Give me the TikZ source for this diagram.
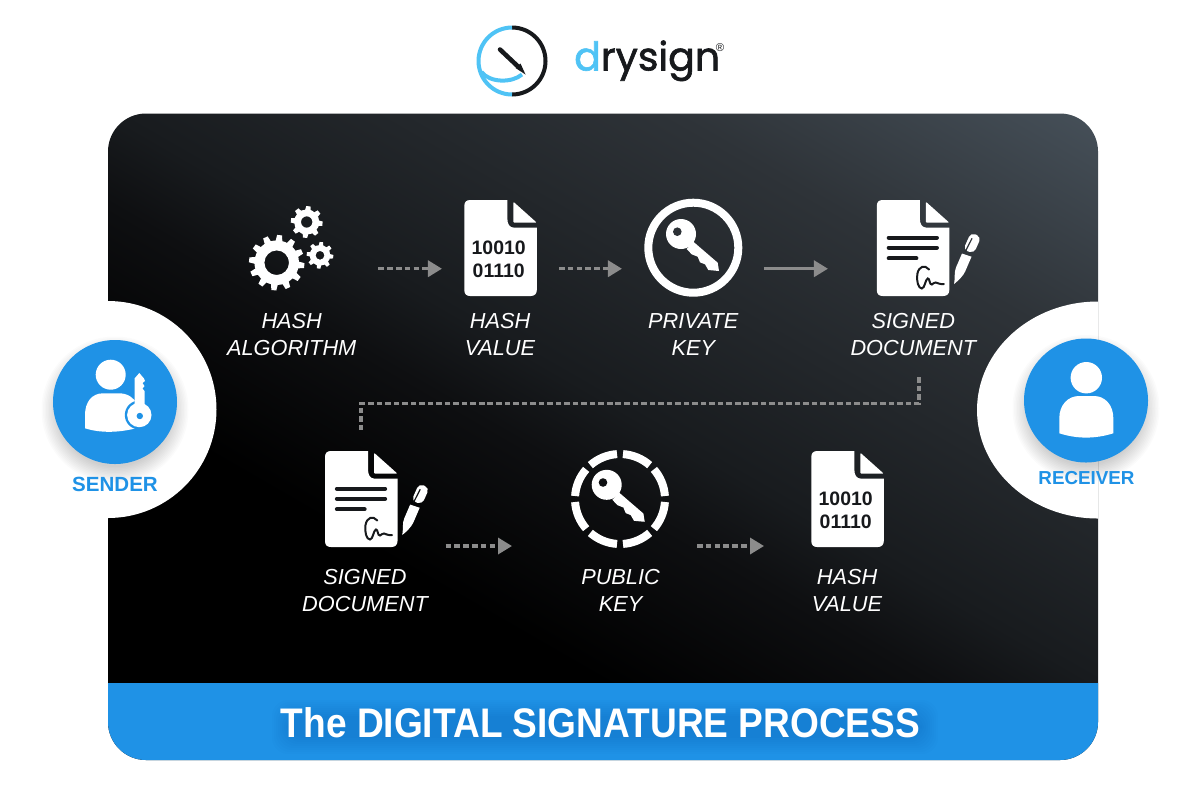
\documentclass[tikz,border=0pt]{standalone}
\usepackage{fontspec}
\setmainfont{Liberation Sans}
\newfontfamily\logofont[FakeBold=1.6]{Poppins}
\newfontfamily\titlefont[FakeStretch=0.897]{Liberation Sans}
\usetikzlibrary{arrows.meta,calc}
\definecolor{brandblue}{HTML}{1F92E6}
\definecolor{skyblue}{HTML}{4FC3F5}
\definecolor{inkdark}{HTML}{17191C}
\definecolor{arrowgrey}{HTML}{8C8C8C}
\definecolor{rowone}{HTML}{2C3136}
\definecolor{rowtwo}{HTML}{0F1012}
\definecolor{gradA}{HTML}{0E0F11}
\definecolor{gradB}{HTML}{181B1E}
\definecolor{gradC}{HTML}{2E3338}
\definecolor{gradD}{HTML}{465059}
\pgfdeclarehorizontalshading{panelgrad}{100bp}{
  color(0bp)=(black); color(25bp)=(black); color(40bp)=(black);
  color(46.8bp)=(gradA);
  color(50bp)=(gradB);
  color(61.4bp)=(gradC);
  color(70bp)=(gradD);
  color(100bp)=(gradD)}
\tikzset{
  iconbox/.style={inner sep=0pt,outer sep=0pt,minimum width=#1},
  caption/.style={text=white,align=center,font=\fontsize{16.3}{20}\selectfont\itshape,inner sep=0pt},
  flow/.style={draw=arrowgrey,line width=2.5pt,dash pattern=on 4.2pt off 2.4pt,-{Triangle[length=10.5pt,width=12pt,sep=3.5pt]},shorten >=-3.5pt},
  flowsolid/.style={draw=arrowgrey,line width=2.5pt,-{Triangle[length=10.5pt,width=12pt]}},
  link/.style={draw=arrowgrey,line width=2.5pt,dash pattern=on 4.2pt off 2.2pt},
}
% document outline, origin at its top-left corner
\newcommand{\docoutline}[1]{%
  \fill[white,shift={(#1)}] (6,0) -- (43,0) -- (43,18) .. controls (43,24) and (45,27.7) .. (50,27.7) -- (72.5,27.7) -- (72.5,90)
    .. controls (72.5,94) and (70,96) .. (66.5,96) -- (6,96) .. controls (2,96) and (0,94) .. (0,90) -- (0,6) .. controls (0,2) and (2,0) .. (6,0) -- cycle;
  \fill[white,shift={(#1)},rounded corners=0.8pt] (49,1.7) -- (72.5,22.7) -- (49,22.7) -- cycle;
}
\newcommand{\signedicon}[2]{%
  \docoutline{#1}
  \begin{scope}[shift={(#1)}]
    \draw[inkdark,line width=3.2pt,line cap=round] (12,37.7) -- (60,37.7) (12,47.7) -- (60,47.7) (12,58.3) -- (39.5,58.3);
    \draw[inkdark,line width=1.5pt,line cap=round] (52.3,69.5) .. controls (48,64.5) and (42,66) .. (40.5,74)
      .. controls (39.5,81) and (41.5,88.5) .. (45,88.5) .. controls (48,88.5) and (48.5,79) .. (51,78.5)
      .. controls (53,78) and (52.5,85) .. (55,84.5) .. controls (57,84) and (57,82) .. (59,82.5)
      .. controls (61,83) and (63,84.5) .. (67,84);
    \begin{scope}[shift={(77.3,84)},rotate=66]
      \fill[white] (0,0) .. controls (6,-1.5) and (11,-5) .. (16,-5) -- (31,-5.2) -- (32,4.8) -- (16,5) .. controls (11,5) and (5,2.5) .. (0,0) -- cycle;
      \fill[white,rounded corners=3.6pt] (35,-5.6) -- (54,-5.6) -- (54,5.6) -- (36,5.6) -- cycle;
      \draw[#2,line width=0.9pt] (34,-3) -- (49,-2.2);
    \end{scope}
  \end{scope}
}
\newcommand{\keyglyph}[2]{% origin: centre of the ring; #2 = hole colour
  \begin{scope}[shift={(#1)}]
    \fill[white] (-12.3,-13.7) circle (15);
    \fill[white] (0,-6) -- (24.4,15) -- (25.7,23.3) -- (15,22.3) -- (11.7,16.6) -- (6.7,14.6) -- (4.4,9) -- (-1.6,6.6) -- (-6.6,1.3) -- cycle;
    \fill[#2] (-16,-16) circle (4.3);
  \end{scope}
}
\newcommand{\gearicon}[6]{% cx cy tipR rootR holeR teeth
  \fill[white,even odd rule] (#1,#2) circle (#4) (#1,#2) circle (#5);
  \pgfmathsetmacro{\halfroot}{360/#6*0.30}
  \pgfmathsetmacro{\halftip}{360/#6*0.17}
  \foreach \k in {1,...,#6}{
    \pgfmathsetmacro{\ang}{\k*360/#6+6}
    \fill[white] ($(#1,#2)+(\ang-\halfroot:#4-0.5)$) -- ($(#1,#2)+(\ang-\halftip:#3)$) -- ($(#1,#2)+(\ang+\halftip:#3)$) -- ($(#1,#2)+(\ang+\halfroot:#4-0.5)$) -- cycle;
  }
}
\newcommand{\softshadow}[4]{% cx cy r colour
  \foreach \d in {0,1.5,...,16.5}{
    \fill[#4,opacity=0.014] (#1,#2) circle (#3+\d-5);
  }
}
\begin{document}
\begin{tikzpicture}[x=0.75pt,y=-0.75pt]
\path[use as bounding box,fill=white] (0,0) rectangle (1201,801);

% panel
\begin{scope}
  \clip[rounded corners=28.5pt] (108,113.5) rectangle (1098,760);
  \shade[shading=panelgrad,shading angle=60] (-17,-222) rectangle (1223,1018);
  \fill[brandblue] (100,683) rectangle (1110,770);
  \foreach \d in {0,2,...,16}{
    \fill[black,opacity=0.008,rounded corners=12pt] (288-\d,716-\d) rectangle (922+\d,738+\d);
  }
\end{scope}
\node[text=white,inner sep=0pt,font=\titlefont\fontsize{31}{34}\selectfont\bfseries] (title) at (600.5,722.5) {The DIGITAL SIGNATURE PROCESS};

% sender and receiver wells
\fill[white] (108,301) arc[start angle=-90,end angle=90,radius=108.5];
\fill[white] (1098,301.5) arc[start angle=-90,delta angle=-180,x radius=121,y radius=108.5];
\softshadow{115}{410}{62}{black}
\softshadow{1086}{408.5}{62}{black}
\node[circle,fill=brandblue,minimum size=93pt,inner sep=0pt] (sender) at (115,402) {};
\node[circle,fill=brandblue,minimum size=93pt,inner sep=0pt] (receiver) at (1086,400.5) {};
\node[text=brandblue,inner sep=0pt,font=\fontsize{15.4}{16}\selectfont\bfseries] (senderlabel) at (115,484) {SENDER};
\node[text=brandblue,inner sep=0pt,font=\fontsize{14.1}{16}\selectfont\bfseries] (receiverlabel) at (1086.5,478) {RECEIVER};

% sender person with key
\fill[white] (110.7,374.7) circle (15);
\fill[white] (85,428.3) -- (85,415) .. controls (85,402) and (92,393.3) .. (103,393.3) -- (119,393.3) .. controls (128,393.3) and (134,398) .. (137,404) -- (137,428) .. controls (118,433) and (100,433) .. (85,428.3) -- cycle;
\fill[brandblue] (139.3,415) circle (14.5);
\fill[white] (139.3,415) circle (12.2);
\fill[white] (134.5,406) -- (134.5,378.5) -- (139.3,373) -- (144,378.5) -- (145,381) -- (142.5,383) -- (144.5,386) -- (142.5,388.5) -- (144.5,391) -- (144.5,406) -- cycle;
\fill[brandblue] (139.8,416) circle (3.2);

% receiver person
\fill[white] (1086.3,377.7) circle (15.7);
\fill[white] (1059.3,433.3) -- (1059.3,418) .. controls (1059.3,405) and (1068,396) .. (1079,396) -- (1094,396) .. controls (1105,396) and (1113.3,405) .. (1113.3,418) -- (1113.3,433.3) .. controls (1095,439) and (1077,439) .. (1059.3,433.3) -- cycle;

% anchors of the icons
\node[iconbox=85pt] (gears) at (291.5,248) {};
\node[iconbox=54.4pt] (hashone) at (500.5,248) {};
\node[iconbox=73.5pt] (privkey) at (693.3,248) {};
\node[iconbox=54.4pt] (signone) at (913.3,248) {};
\node[iconbox=54.4pt] (signtwo) at (361,499) {};
\node[iconbox=73.5pt] (pubkey) at (620,499) {};
\node[iconbox=54.4pt] (hashtwo) at (847.5,499) {};
\coordinate (rowa) at (0,268.7);
\coordinate (rowb) at (0,546);
\coordinate (linkstart) at (919,377);
\coordinate (linkmid) at (0,403.3);
\coordinate (linkend) at (0,432);

% gears
\gearicon{276.7}{262.7}{27.8}{22.3}{12.3}{12}
\gearicon{306.7}{222}{16}{12.6}{5.7}{8}
\gearicon{320}{255.3}{13.4}{10.3}{4.4}{8}

% hash value documents
\docoutline{464.3,200}
\docoutline{811.3,451}
\node[text=inkdark,inner sep=0pt,align=center,font=\fontsize{14.6}{17.2}\selectfont\bfseries] (bitsone) at (498.7,259.2) {10010\\01110};
\node[text=inkdark,inner sep=0pt,align=center,font=\fontsize{14.6}{17.2}\selectfont\bfseries] (bitstwo) at (845.7,510.2) {10010\\01110};

% signed documents
\signedicon{876.8,200}{rowone}
\signedicon{325,451}{rowtwo}

% private key
\draw[white,line width=6pt] (693.3,247.7) circle (45);
\keyglyph{693.3,247.7}{rowone}

% public key
\foreach \a in {0,45,...,315}{
  \draw[white,line width=6pt] ($(620,499)+(\a+3.8:45)$) arc[start angle=\a+3.8,end angle=\a+41.2,radius=45];
}
\keyglyph{619,498.5}{rowtwo}

% captions
\node[caption] (c1) at (291.7,334.4) {HASH\\ALGORITHM};
\node[caption] (c2) at (500,334.4) {HASH\\VALUE};
\node[caption] (c3) at (693.3,334.4) {PRIVATE\\KEY};
\node[caption] (c4) at (913.3,334.4) {SIGNED\\DOCUMENT};
\node[caption] (c5) at (365,590.7) {SIGNED\\DOCUMENT};
\node[caption] (c6) at (620.5,590.7) {PUBLIC\\KEY};
\node[caption] (c7) at (847,590.7) {HASH\\VALUE};

% connectors
\draw[flow] ([xshift=65.1pt]gears.center |- rowa) -- ([xshift=-43.9pt]hashone.center |- rowa);
\draw[flow] ([xshift=43.9pt]hashone.center |- rowa) -- ([xshift=-53.5pt]privkey.center |- rowa);
\draw[flowsolid] ([xshift=53.3pt]privkey.center |- rowa) -- ([xshift=-64pt]signone.center |- rowa);
\draw[link] (linkstart) -- (linkstart |- linkmid) -- (signtwo.center |- linkmid) -- (signtwo.center |- linkend);
\draw[flow] ([xshift=63.5pt]signtwo.center |- rowb) -- ([xshift=-81pt]pubkey.center |- rowb);
\draw[flow] ([xshift=57.8pt]pubkey.center |- rowb) -- ([xshift=-62.6pt]hashtwo.center |- rowb);

% logo
\draw[inkdark,line width=3pt] (512,27.5) arc[start angle=-90,end angle=90,radius=33.5];
\draw[skyblue,line width=3pt] (512,94.5) arc[start angle=90,end angle=270,radius=33.5];
\draw[skyblue,line width=3pt] (481.5,72) .. controls (490,83) and (512,83) .. (522,74.5);
\draw[inkdark,line width=3.4pt,line cap=round] (500,49.5) -- (518,66.5);
\fill[inkdark] (515.5,68) -- (520.5,63.5) -- (525.5,74.5) -- cycle;
\node[anchor=base west,inner sep=0pt,font=\logofont\fontsize{29.6}{32}\selectfont] (logotext) at (574,70.5) {\textcolor{skyblue}{d}\textcolor{inkdark}{rysign}};
\node[anchor=center,inner sep=0pt,text=inkdark,font=\fontsize{8.5}{9}\selectfont] (reg) at (720,48) {®};
\end{tikzpicture}
\end{document}
